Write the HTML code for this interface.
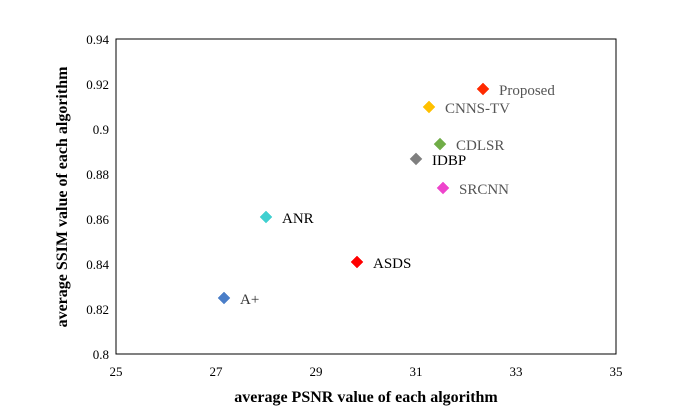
<!DOCTYPE html>
<html><head><meta charset="utf-8"><style>
body{margin:0;background:#fff;}
svg{display:block;font-family:"Liberation Serif",serif;}
</style></head><body>
<svg id="chart" width="692" height="419"></svg>
<script>
const names=["Proposed","CNNS-TV","CDLSR","IDBP","SRCNN","ANR","ASDS","A+"];
const psnr=[32.34,31.26,31.48,31.0,31.54,28.0,29.82,27.16];
const ssim=[0.9178,0.9098,0.8933,0.8867,0.8738,0.8609,0.8409,0.8249];
const colors=["#ff2a00","#ffc000","#70ad47","#7f7f7f","#ee44cc","#40d0d0","#ff0000","#4a7ec8"];
const labelColors=["#555","#555","#555","#000","#555","#000","#000","#333"];
const xTicks=[25,27,29,31,33,35];
const yTicks=[0.8,0.82,0.84,0.86,0.88,0.9,0.92,0.94];
const X0=116,X1=616,Y0=354,Y1=39;
const sx=v=>X0+(v-25)/10*(X1-X0);
const sy=v=>Y0-(v-0.8)/0.14*(Y0-Y1);
const svg=document.getElementById('chart');
const NS='http://www.w3.org/2000/svg';
function mk(t,a){const e=document.createElementNS(NS,t);for(const k in a)e.setAttribute(k,a[k]);svg.appendChild(e);return e;}
let r=mk('rect',{x:X0,y:Y1,width:X1-X0,height:Y0-Y1,fill:'none',stroke:'#000','stroke-width':1});


xTicks.forEach(t=>{
  const e=mk('text',{x:sx(t),y:Y0+22,'text-anchor':'middle','font-size':13});e.textContent=t;
  
  
});
yTicks.forEach(t=>{
  const e=mk('text',{x:X0-7,y:sy(t)+5,'text-anchor':'end','font-size':13});e.textContent=(t===0.8?'0.8':t===0.9?'0.9':t.toFixed(2));
  
  
});
names.forEach((n,i)=>{
  const x=sx(psnr[i]),y=sy(ssim[i]),s=6.5;
  const p=mk('polygon',{points:`${x},${y-s} ${x+s},${y} ${x},${y+s} ${x-s},${y}`,fill:colors[i],stroke:'#fff','stroke-width':0.5});
  
  
  const t=mk('text',{x:x+16,y:y+6,'font-size':15,fill:labelColors[i]});t.textContent=n;
  
  
});
let xt=mk('text',{x:366,y:402,'text-anchor':'middle','font-size':16,'font-weight':'bold'});xt.textContent='average PSNR value of each algorithm';


let yt=mk('text',{x:0,y:0,'text-anchor':'middle','font-size':16,'font-weight':'bold',transform:'translate(67,197) rotate(-90)'});yt.textContent='average SSIM value of each algorithm';


</script>
</body></html>
